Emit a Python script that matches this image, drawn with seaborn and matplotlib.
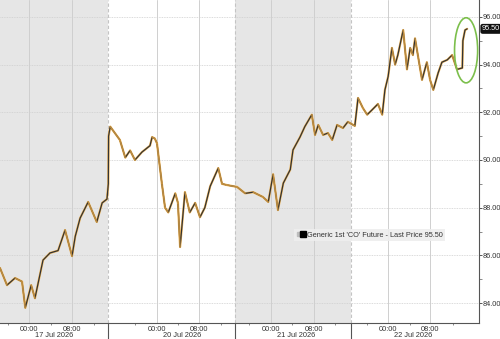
import numpy as np
import pandas as pd
import matplotlib
matplotlib.use("Agg")
import matplotlib.pyplot as plt
import matplotlib.transforms as mtransforms
from matplotlib.patches import Ellipse
from matplotlib.lines import Line2D
from matplotlib.legend_handler import HandlerTuple
import seaborn as sns

# ---- data (hours into the displayed trading window, price) ----
hours = [0.0, 1.3, 2.8, 4.1, 4.7, 5.8, 6.5, 8.0, 9.3, 10.8, 12.1, 13.4, 14.0, 14.9,
         16.4, 18.0, 19.0, 19.9, 20.15, 20.2, 20.5, 22.3, 23.3, 24.2, 25.1, 26.4,
         27.9, 28.3, 28.8, 29.2, 30.1, 30.7, 31.3, 32.6, 33.1, 33.5, 34.4, 35.3,
         36.3, 37.2, 38.1, 39.1, 40.6, 41.3, 42.2, 44.1, 45.6, 47.1, 48.9, 49.9,
         50.8, 51.7, 52.7, 54.0, 54.5, 55.8, 56.7, 58.0, 58.6, 59.2, 60.1, 61.0,
         61.8, 62.7, 63.8, 64.7, 66.0, 66.6, 67.5, 68.3, 69.2, 70.3, 71.1, 71.6,
         72.2, 72.9, 73.5, 74.0, 75.0, 75.7, 76.3, 76.8, 77.2, 77.8, 78.5, 79.4,
         80.0, 80.6, 81.5, 82.2, 83.2, 84.1, 85.0, 86.0, 86.1, 86.5, 86.9]
price = [85.47, 84.75, 85.05, 84.90, 83.80, 84.75, 84.20, 85.80, 86.10, 86.20, 87.06,
         85.97, 86.80, 87.56, 88.24, 87.40, 88.20, 88.36, 89.00, 91.00, 91.40, 90.84,
         90.10, 90.40, 90.00, 90.33, 90.60, 90.96, 90.90, 90.70, 89.03, 88.00, 87.80,
         88.60, 88.20, 86.35, 88.65, 87.80, 88.20, 87.60, 88.00, 88.90, 89.66, 89.00,
         88.95, 88.87, 88.60, 88.65, 88.45, 88.24, 89.40, 87.90, 89.03, 89.60, 90.42,
         90.96, 91.40, 91.90, 91.05, 91.47, 91.05, 91.13, 90.84, 91.47, 91.34, 91.60,
         91.43, 92.60, 92.18, 91.90, 92.10, 92.35, 91.90, 92.94, 93.50, 94.70, 94.00,
         94.40, 95.45, 93.80, 94.70, 94.40, 95.10, 94.30, 93.36, 94.10, 93.36, 92.94,
         93.65, 94.10, 94.20, 94.40, 93.80, 93.86, 95.00, 95.45, 95.50]

tick_hours = [5.4, 13.4, 29.2, 37.0, 50.4, 58.4, 72.2, 80.0]
tick_labels = ["00:00", "08:00", "00:00", "08:00", "00:00", "08:00", "00:00", "08:00"]
day_labels = ["17 Jul 2026", "20 Jul 2026", "21 Jul 2026", "22 Jul 2026"]
day_bounds = [0.0, 20.1, 43.7, 65.3, 89.1]
last_price = 95.50
series_name = "Generic 1st 'CO' Future - Last Price 95.50"

df = pd.DataFrame({"hour": hours, "price": price})

sns.set_theme(style="white")
FONT = ["Liberation Sans Narrow", "Liberation Sans", "DejaVu Sans"]
plt.rcParams["font.family"] = FONT
FS = 5.3

fig = plt.figure(figsize=(5.0, 3.39), dpi=100)
ax = fig.add_axes([0.0, 0.047, 0.958, 0.953])
ax.set_facecolor("white")

# shaded alternate days
for i in range(len(day_bounds) - 1):
    if i % 2 == 0:
        ax.axvspan(day_bounds[i], day_bounds[i + 1], color="#e6e6e6", lw=0, zorder=0)
# separators
for b in day_bounds[1:-1]:
    ax.axvline(b, color="#c4c4c4", ls=(0, (3, 2)), lw=0.8, zorder=1)

# grid
for t in tick_hours:
    ax.axvline(t, color="#cfcfcf", lw=0.7, zorder=1)
for yv in range(84, 97, 2):
    ax.axhline(yv, color="#cfcfcf", lw=0.6, ls=(0, (1, 1)), zorder=1)

# price path: orange halo, dark bars on top, falling moves in orange
ax.plot(hours, price, color="#efb456", lw=1.6, zorder=2)
sns.lineplot(data=df, x="hour", y="price", ax=ax, color="#333333", lw=0.9,
             zorder=3, legend=False)
dx, dy = [], []
for i in range(len(hours) - 1):
    if price[i + 1] < price[i]:
        dx += [hours[i], hours[i + 1], np.nan]
        dy += [price[i], price[i + 1], np.nan]
ax.plot(dx, dy, color="#e8a844", lw=1.0, zorder=4, alpha=0.75)

ax.set_xlim(day_bounds[0], day_bounds[-1])
ax.set_ylim(83.16, 96.71)

# axes styling
for s in ["top", "left"]:
    ax.spines[s].set_visible(False)
for s in ["right", "bottom"]:
    ax.spines[s].set_color("#555555")
    ax.spines[s].set_linewidth(0.8)

ax.yaxis.tick_right()
ax.set_yticks(range(84, 97, 2))
ax.set_yticklabels([f"{v:.2f}" for v in range(84, 97, 2)])
ax.set_yticks(range(85, 97, 2), minor=True)
ax.tick_params(axis="y", which="major", direction="out", length=2.5, width=0.7,
               colors="#555555", labelcolor="#333333", labelsize=FS, pad=0.3)
ax.tick_params(axis="y", which="minor", direction="out", length=2, width=0.6,
               colors="#777777", right=True, left=False)

ax.set_xticks(tick_hours)
ax.set_xticklabels(tick_labels)
minor_x = []
for t0 in tick_hours[::2]:
    minor_x += [t0 - 4, t0 + 4, t0 + 12]
ax.set_xticks([m for m in minor_x if day_bounds[0] < m < day_bounds[-1]], minor=True)
ax.tick_params(axis="x", which="major", direction="out", length=1.5, width=0.7,
               colors="#555555", labelcolor="#333333", labelsize=FS, pad=0.3)
ax.tick_params(axis="x", which="minor", direction="out", length=1.5, width=0.6,
               colors="#777777", bottom=True)
ax.set_xlabel("")
ax.set_ylabel("")

trans = mtransforms.blended_transform_factory(ax.transData, ax.transAxes)
# long separator ticks below axis
for b in day_bounds[1:-1]:
    ax.plot([b, b], [0, -0.05], transform=trans, color="#555555", lw=0.8,
            clip_on=False)
# day labels
for k, lab in enumerate(day_labels):
    cx = (tick_hours[2 * k] + tick_hours[2 * k + 1]) / 2 + 0.7
    ax.text(cx, -0.037, lab, transform=trans, ha="center", va="center",
            fontsize=FS, color="#333333")

# highlight ellipse
ax.add_patch(Ellipse((86.7, 94.6), 4.3, 2.73, fill=False, ec="#7cbf4c", lw=1.2,
                     zorder=5))

# last price tag
transy = mtransforms.blended_transform_factory(ax.transAxes, ax.transData)
ax.text(1.006, last_price, f"{last_price:.2f}", transform=transy, ha="left",
        va="center", fontsize=FS, color="white", clip_on=False,
        bbox=dict(boxstyle="round,pad=0.2,rounding_size=0.3", fc="#111111",
                  ec="none"))

# legend
h1 = Line2D([], [], marker="s", ls="none", color="#bdbdbd", markersize=2.5)
h2 = Line2D([], [], marker="s", ls="none", color="#000000", markersize=4.5)
leg = ax.legend([(h1, h2)], [series_name],
                handler_map={tuple: HandlerTuple(ndivide=None, pad=0.05)},
                loc="center", bbox_to_anchor=(0.772, 0.272), fontsize=FS,
                frameon=True, fancybox=False, handlelength=1.1,
                handletextpad=0.3, borderpad=0.35)
leg.get_frame().set_facecolor("#eeeeee")
leg.get_frame().set_edgecolor("none")
leg.get_frame().set_alpha(0.9)
for t in leg.get_texts():
    t.set_color("#333333")

fig.savefig("out.png", dpi=100)
